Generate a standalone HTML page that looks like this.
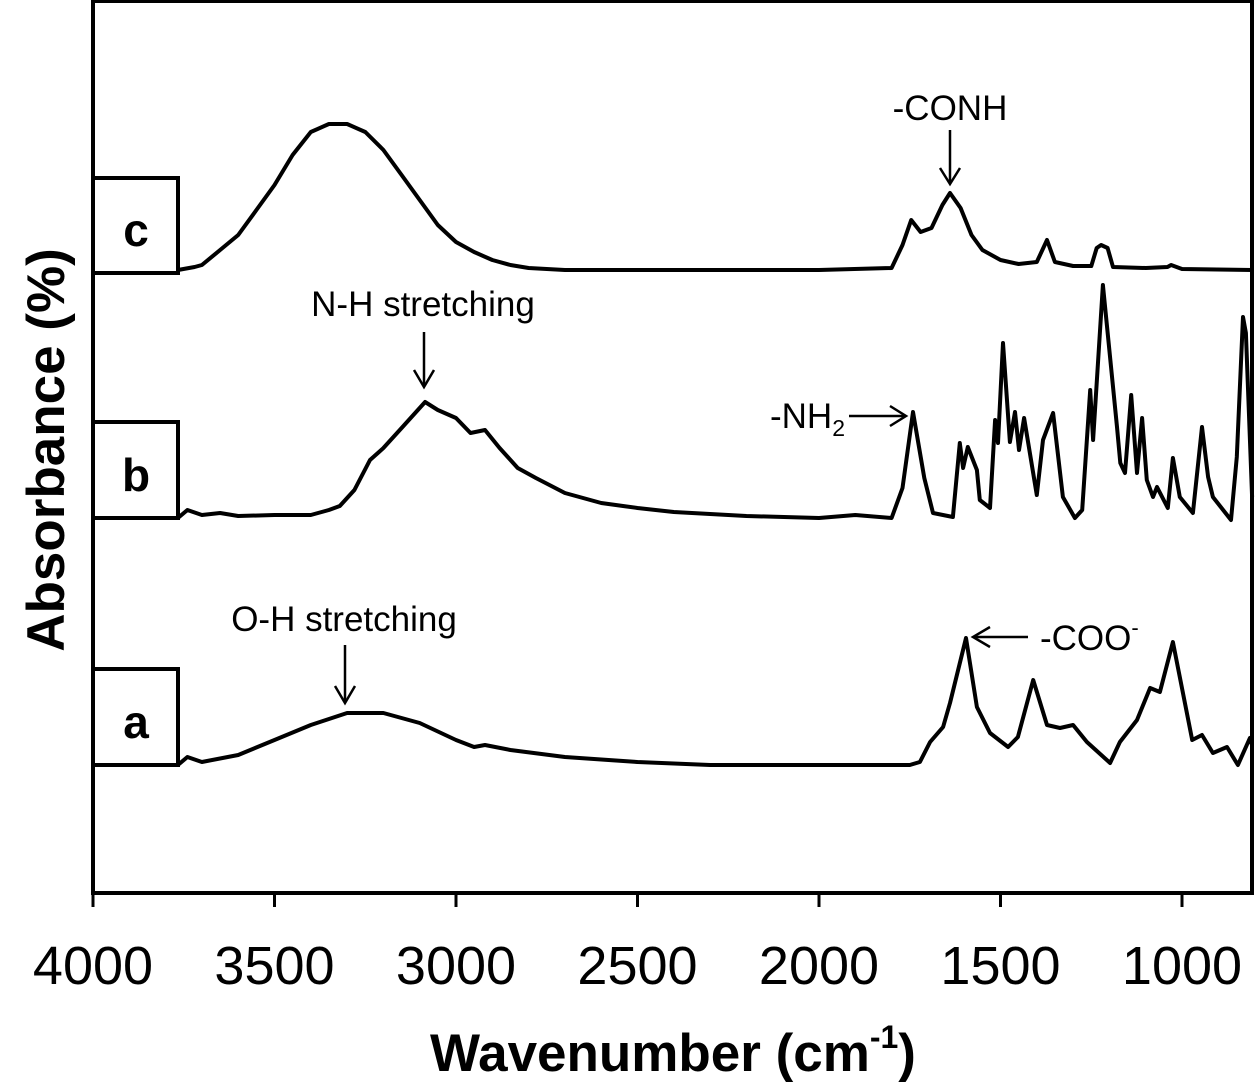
<!DOCTYPE html>
<html><head><meta charset="utf-8"><style>
html,body{margin:0;padding:0;background:#fff;}
svg{display:block;font-family:"Liberation Sans",Arial,sans-serif;}
</style></head><body>
<svg id="chart" width="1260" height="1084" viewBox="0 0 1260 1084">
<rect x="93" y="1" width="1159" height="892" fill="none" stroke="#000" stroke-width="4"/>
<g id="ticks"></g>
<g id="series"></g>
<g><rect x="93" y="178" width="85" height="95" fill="#fff" stroke="#000" stroke-width="4"/><text x="136" y="246" font-size="46" font-weight="bold" text-anchor="middle">c</text></g>
<g><rect x="93" y="422" width="85" height="96" fill="#fff" stroke="#000" stroke-width="4"/><text x="136" y="491" font-size="46" font-weight="bold" text-anchor="middle">b</text></g>
<g><rect x="93" y="669" width="85" height="96" fill="#fff" stroke="#000" stroke-width="4"/><text x="136" y="738" font-size="46" font-weight="bold" text-anchor="middle">a</text></g>
<g font-size="35" fill="#000" stroke="#000" stroke-width="2.5">
<g><text x="950" y="120" text-anchor="middle" stroke="none">-CONH</text><line x1="950" y1="130" x2="950" y2="183"/><polyline points="940,168 950,184 960,168" fill="none"/></g>
<g><text x="423" y="316" text-anchor="middle" stroke="none">N-H stretching</text><line x1="424" y1="332" x2="424" y2="386"/><polyline points="414,370 424,387 434,370" fill="none"/></g>
<g><text x="845" y="428" text-anchor="end" stroke="none">-NH<tspan font-size="23" dy="8">2</tspan></text><line x1="849" y1="416" x2="905" y2="416"/><polyline points="890,406 906,416 890,426" fill="none"/></g>
<g><text x="344" y="631" text-anchor="middle" stroke="none">O-H stretching</text><line x1="345" y1="645" x2="345" y2="702"/><polyline points="335,686 345,703 355,686" fill="none"/></g>
<g><text x="1040" y="650" stroke="none">-COO<tspan font-size="22" dy="-15">-</tspan></text><line x1="974" y1="637" x2="1028" y2="637"/><polyline points="990,627 973,637 990,647" fill="none"/></g>
</g>
<text x="46" y="450" font-size="53" font-weight="bold" text-anchor="middle" transform="rotate(-90 46 450)" dy="18">Absorbance (%)</text>
<text x="673" y="1071" font-size="53" font-weight="bold" text-anchor="middle">Wavenumber (cm<tspan font-size="32" dy="-23">-1</tspan><tspan dy="23">)</tspan></text>
</svg>
<script>
const tickValues = [4000, 3500, 3000, 2500, 2000, 1500, 1000];
const tickLabels = ["4000", "3500", "3000", "2500", "2000", "1500", "1000"];
const seriesNames = ["a", "b", "c"];
const waveC = [3766,3720,3700,3650,3600,3550,3500,3450,3400,3350,3300,3250,3200,3150,3100,3050,3000,2950,2900,2850,2800,2700,2000,1800,1770,1746,1720,1690,1660,1639,1610,1580,1550,1500,1450,1400,1372,1350,1300,1250,1235,1223,1205,1190,1100,1040,1030,1000,807];
const absC = [0,3,5,20,35,60,85,115,138,146,146,138,120,95,70,45,28,18,10,5,2,0,0,2,25,50,38,42,65,77,62,35,20,10,6,8,30,8,4,4,22,25,22,3,2,3,5,1,0];
const waveB = [3766,3740,3700,3650,3600,3500,3400,3350,3320,3280,3237,3200,3150,3085,3050,3000,2960,2920,2880,2830,2780,2700,2600,2500,2400,2200,2000,1900,1800,1770,1741,1710,1686,1631,1612,1603,1590,1565,1557,1529,1515,1507,1493,1474,1460,1449,1435,1400,1383,1355,1328,1295,1275,1253,1245,1218,1179,1170,1157,1140,1124,1110,1097,1080,1069,1039,1025,1006,970,945,928,915,865,849,832,824,807];
const absB = [0,8,3,5,2,3,3,8,12,28,58,70,90,116,108,100,85,88,70,50,40,25,15,10,6,2,0,3,0,30,106,40,5,1,75,50,71,48,18,10,98,75,175,76,106,68,100,23,78,105,21,0,8,128,78,233,91,55,45,123,45,100,38,21,31,10,60,21,5,91,41,21,-2,61,201,185,21];
const waveA = [3766,3740,3700,3600,3500,3400,3300,3200,3100,3000,2950,2920,2850,2700,2500,2300,1750,1722,1694,1658,1639,1595,1565,1529,1479,1452,1410,1372,1336,1300,1262,1198,1171,1124,1088,1061,1025,972,945,915,876,846,813,807];
const absA = [0,8,3,10,25,40,52,52,42,25,18,20,15,8,3,0,0,3,23,38,62,127,58,32,18,28,85,40,37,40,23,2,23,45,77,73,123,25,30,12,18,0,27,20];
const baseOffsets = [765, 518, 270];
const waves = [waveA, waveB, waveC];
const absVals = [absA, absB, absC];

const X0 = 93, PXPER = 0.363;
function xScale(w){ return X0 + (4000 - w) * PXPER; }
function yScale(v, base){ return base - v; }
const NS = "http://www.w3.org/2000/svg";
const ticks = document.getElementById('ticks');
tickValues.forEach((t, i) => {
  const x = xScale(t);
  const l = document.createElementNS(NS, 'line');
  l.setAttribute('x1', x); l.setAttribute('x2', x);
  l.setAttribute('y1', 893); l.setAttribute('y2', 907);
  l.setAttribute('stroke', '#000'); l.setAttribute('stroke-width', '3');
  
  
  ticks.appendChild(l);
  const tx = document.createElementNS(NS, 'text');
  tx.setAttribute('x', x); tx.setAttribute('y', 984);
  tx.setAttribute('font-size', '54'); tx.setAttribute('text-anchor', 'middle');
  tx.textContent = tickLabels[i];
  
  
  ticks.appendChild(tx);
});
const sg = document.getElementById('series');
seriesNames.forEach((n, k) => {
  const w = waves[k], a = absVals[k], base = baseOffsets[k];
  const pts = w.map((wv, i) => xScale(wv).toFixed(1) + ',' + yScale(a[i], base).toFixed(1)).join(' ');
  const p = document.createElementNS(NS, 'polyline');
  p.setAttribute('points', pts);
  p.setAttribute('fill', 'none'); p.setAttribute('stroke', '#000');
  p.setAttribute('stroke-width', '4'); p.setAttribute('stroke-linejoin', 'round');
  
  
  sg.appendChild(p);
});
</script>
</body></html>
